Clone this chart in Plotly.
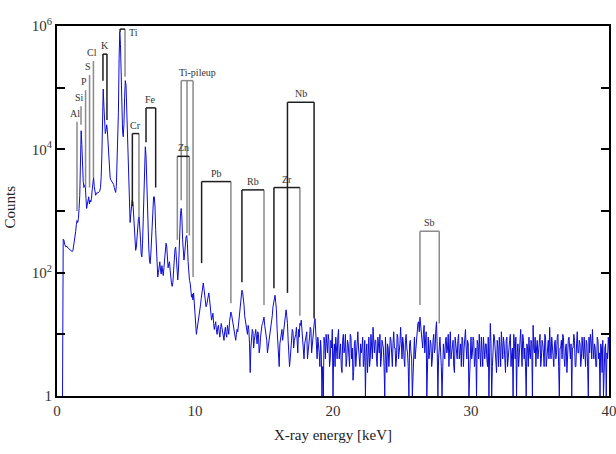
import numpy as np
import plotly.graph_objects as go

# ---------------- spectrum data ----------------
# low-energy part: channels every 0.05 keV starting at 0.40 keV
low_start, low_step = 0.40, 0.05
low_counts = [
    1, 350, 340, 290, 270, 260, 270, 255, 250, 245,          # 0.40-0.85
    240, 235, 230, 225, 220, 225, 260, 320, 400, 460,        # 0.90-1.35
    600, 700, 650, 750, 1100, 1800, 6000, 20000, 12000, 4000, # 1.40-1.85
    3000, 2400, 2600, 2700, 1600, 1100, 1300, 1600, 1700, 1300, # 1.90-2.35
    1500, 1400, 1600, 2200, 3000, 3500, 2500, 1900, 1800, 1900, # 2.40-2.85
    2000, 1950, 2000, 2050, 2100, 2400, 3500, 8000, 60000, 95000, # 2.90-3.35
    50000, 22000, 18000, 20000, 25000, 20000, 12000, 8000, 5000, 3500, # 3.40-3.85
    3200, 3100, 3000, 2900, 2700, 2400, 2100, 2000, 2500, 5000, # 3.90-4.35
    15000, 40000, 300000, 800000, 500000, 120000, 40000, 20000, 16000, 25000, # 4.40-4.85
    70000, 130000, 110000, 45000, 15000, 5000, 2000, 900, 650, 900, # 4.90-5.35
    1300, 1500, 1400, 800, 400, 280, 230, 260, 400, 600,     # 5.40-5.85
    750, 800, 600, 350, 200, 180, 300, 900, 3000, 8000,      # 5.90-6.35
    11000, 8000, 3000, 900, 400, 250, 160, 140, 200, 400,    # 6.40-6.85
    900, 1400, 1700, 1700, 1200, 500, 250, 130, 85, 100,     # 6.90-7.35
    130, 150, 110, 95, 130, 110, 90, 120, 160, 230,          # 7.40-7.85
    300, 270, 160, 120, 140, 150, 110, 80, 65, 60,           # 7.90-8.35
    70, 110, 180, 240, 260, 180, 100, 76, 110, 250,          # 8.40-8.85
    600, 900, 1100, 800, 350, 180, 160, 200, 300, 380,       # 8.90-9.35
    400, 300, 150, 98, 75, 68, 50, 40, 45, 36,               # 9.40-9.85
    47, 30, 18,                                              # 9.90-10.00
]
# high-energy part: channels at 10.1, 10.2, ... keV
high_start, high_step = 10.1, 0.1
high_counts = [
    10, 14, 22, 30, 50, 68, 45, 28, 35, 47,
    30, 17, 22, 12, 16, 10, 14, 9, 15, 11,
    8, 13, 9, 12, 16, 23, 18, 12, 9, 10,
    11, 18, 30, 52, 40, 20, 13, 10, 12, 2.4,
    9, 11, 8, 12, 7, 10, 6, 12, 15, 19,
    12, 8, 6, 10, 14, 20, 35, 43, 25, 6,
    3, 9, 12, 10, 18, 25, 15, 5, 4, 9,
    11, 8, 10, 6, 12, 15, 17, 9, 4, 8,
    11, 6, 9, 12, 7, 14, 18, 6, 9, 5,
    8, 1, 1, 7, 10, 5, 8, 4, 6, 1,
    7, 9, 4, 12, 6, 3, 8, 5, 10, 4,
    7, 3, 9, 6, 2.5, 8, 5, 11, 4, 7,
    6, 3, 8, 5, 2.4, 9, 4, 7, 13, 5,
    8, 3, 6, 10, 4, 7, 3, 9, 2.4, 6,
    5, 8, 3, 11, 6, 4, 9, 5, 13, 4,
    7, 3, 10, 5, 1, 8, 4, 1.8, 9, 6,
    12, 16, 19, 10, 6, 14, 8, 1, 9, 5,
    7, 4, 10, 6, 16, 1, 8, 5, 1, 7,
    4, 9, 6, 3, 11, 5, 8, 2.4, 7, 4,
    10, 5, 3, 8, 6, 12, 4, 7, 3, 9,
    5, 8, 4, 1, 7, 10, 3, 6, 9, 4,
    7, 3, 1, 15, 1, 6, 9, 4, 8, 3,
    6, 11, 4, 7, 2.4, 9, 5, 8, 3, 6,
    10, 4, 1, 7, 5, 12, 3, 8, 6, 1,
    6, 9, 4, 7, 14, 5, 3, 8, 6, 10,
    4, 7, 3, 9, 5, 8, 13, 4, 6, 3,
    8, 5, 10, 1, 6, 4, 9, 3, 7, 5,
    9, 4, 1, 6, 8, 3, 11, 5, 7, 4,
    6, 9, 3, 7, 1, 5, 8, 12, 4, 6,
    3, 8, 5, 7, 2.4, 1, 6, 1, 4, 5,
]
# in-between channels at 10.15, 10.25, ... keV
high_counts_mid = [
    12, 18, 26, 38, 60, 55, 35, 30, 42, 38,
    22, 19, 15, 14, 12, 13, 11, 12, 13, 9,
    11, 10, 14, 10, 20, 21, 14, 10, 8, 12,
    14, 24, 42, 48, 30, 16, 11, 14, 7, 6,
    12, 6, 10, 9, 11, 5, 9, 14, 17, 14,
    9, 5, 8, 12, 16, 28, 40, 33, 12, 4,
    7, 11, 8, 14, 22, 20, 8, 3, 7, 12,
    6, 9, 13, 5, 9, 14, 12, 5, 7, 10,
    4, 8, 13, 5, 10, 16, 9, 4, 7, 3,
    5, 3, 9, 4, 7, 10, 3, 8, 12, 5,
    3, 6, 9, 4, 7, 2.4, 10, 6, 3, 8,
    5, 10, 4, 1.8, 7, 3, 9, 6, 3, 5,
    9, 4, 1, 7, 6, 3, 10, 4, 6, 8,
    4, 9, 5, 3, 8, 6, 1, 5, 7, 3,
    9, 4, 7, 6, 3, 10, 4, 7, 6, 9,
    4, 8, 6, 3, 7, 5, 1, 6, 4, 10,
    15, 11, 13, 7, 10, 5, 11, 6, 4, 8,
    3, 8, 5, 12, 6, 4, 9, 3, 6, 5,
    8, 5, 10, 6, 4, 7, 3, 9, 5, 8,
    4, 7, 9, 3, 10, 6, 8, 1, 6, 4,
    9, 3, 6, 8, 4, 5, 9, 3, 6, 7,
    4, 9, 5, 7, 3, 10, 5, 2.4, 6, 9,
    3, 7, 9, 4, 8, 3, 6, 10, 5, 1,
    7, 9, 5, 3, 8, 6, 10, 4, 3, 7,
    3, 5, 8, 1, 6, 9, 6, 4, 9, 3,
    8, 5, 10, 3, 7, 4, 6, 9, 3, 7,
    4, 9, 3, 6, 8, 10, 4, 6, 2.4, 8,
    5, 7, 6, 10, 3, 7, 5, 8, 3, 9,
    4, 6, 8, 3, 9, 10, 4, 6, 7, 3,
    9, 4, 1, 6, 8, 3, 7, 5, 9, 4,
]

# ---------------- peak markers ----------------
elements = ["Al", "Si", "P", "S", "Cl", "K", "Ti", "Cr", "Fe", "Zn",
            "Ti-pileup", "Pb", "Rb", "Zr", "Nb", "Sb"]
line_lo = [1.45, 1.74, 2.07, 2.36, 2.64, 3.33, 4.57, 5.46, 6.45, 8.72,
           9.00, 10.48, 13.40, 15.72, 16.70, 26.3]
line_hi = [None, None, None, None, None, 3.62, 4.93, 5.94, 7.15, 9.59,
           9.86, 12.60, 15.00, 17.60, 18.63, 27.7]
line_mid = {"Ti-pileup": (9.42, 440)}
top = [2.8e4, 5.0e4, 9.1e4, 1.6e5, 2.7e5, 3.5e5, 8.9e5, 1.8e4, 4.7e4, 7.7e3,
       1.3e5, 3.0e3, 2.2e3, 2.4e3, 5.8e4, 470]
bottom_lo = [1.0e3, 2.5e4, 2.4e3, 2.4e3, 3.5e3, 1.3e5, 8.0e5, 1.2e3, 1.3e4, 340,
             1.5e3, 143, 70, 56, 47, 30]
bottom_hi = [None, None, None, None, None, 3.0e4, 1.5e5, 800, 2.4e3, 400,
             85, 32, 30, 20, 18, 15]
# colour class of (left line, top, right line): d = dark, g = gray
shade = ["g--", "g--", "g--", "g--", "g--", "ddd", "ddg", "ddg", "ddd", "gdg",
         "ggg", "ddg", "ddg", "ddg", "ddd", "ggg"]

DARK, GRAY = "#1e1e1e", "#8a8a8a"
SERIF = "Liberation Serif, Times New Roman, serif"

fig = go.Figure()

low_e = low_start + low_step * np.arange(len(low_counts))
high_e = high_start + high_step * np.arange(len(high_counts))
mid_e = high_e + high_step / 2
hi_e = np.empty(2 * len(high_e))
hi_c = np.empty(2 * len(high_e))
hi_e[0::2], hi_e[1::2] = high_e, mid_e
hi_c[0::2], hi_c[1::2] = high_counts, high_counts_mid
energy = np.concatenate([low_e, hi_e])
counts = np.concatenate([np.array(low_counts, float), hi_c])

fig.add_trace(go.Scatter(x=energy, y=counts, mode="lines",
                         line=dict(color="#0c0cd4", width=1),
                         hoverinfo="skip", showlegend=False))

segs = {"d": ([], []), "g": ([], [])}


def add_seg(c, x0, y0, x1, y1):
    xs, ys = segs[c]
    xs += [x0, x1, None]
    ys += [y0, y1, None]


for i, el in enumerate(elements):
    s = shade[i]
    add_seg(s[0], line_lo[i], bottom_lo[i], line_lo[i], top[i])
    if line_hi[i] is not None:
        add_seg(s[1], line_lo[i], top[i], line_hi[i], top[i])
        add_seg(s[2], line_hi[i], top[i], line_hi[i], bottom_hi[i])
    if el in line_mid:
        xm, ym = line_mid[el]
        add_seg(s[2], xm, top[i], xm, ym)

for c, col in (("g", GRAY), ("d", DARK)):
    xs, ys = segs[c]
    fig.add_trace(go.Scatter(x=xs, y=ys, mode="lines",
                             line=dict(color=col, width=1.5),
                             hoverinfo="skip", showlegend=False))

for i, el in enumerate(elements):
    font = dict(family=SERIF, size=10, color="#333")
    if el == "Ti":
        fig.add_annotation(x=line_hi[i], y=np.log10(top[i]), text=el,
                           showarrow=False, xanchor="left", yanchor="middle",
                           xshift=2, yshift=-3, font=font)
    elif el == "Ti-pileup":
        fig.add_annotation(x=line_lo[i], y=np.log10(top[i]), text=el,
                           showarrow=False, xanchor="left", yanchor="bottom",
                           xshift=-4, yshift=1, font=font)
    else:
        xc = line_lo[i] - 0.12 if line_hi[i] is None else 0.5 * (line_lo[i] + line_hi[i])
        fig.add_annotation(x=xc, y=np.log10(top[i]), text=el,
                           showarrow=False, xanchor="center", yanchor="bottom",
                           yshift=1, font=font)

# y-axis title placed near the left edge of the figure
fig.add_annotation(text="Counts", xref="paper", yref="paper", x=-0.085, y=0.51,
                   textangle=-90, showarrow=False, xanchor="center", yanchor="middle",
                   font=dict(family=SERIF, size=15, color="#222"))

ytick_vals = [1, 100, 1e4, 1e6]
ytick_text = ["1", "10<sup>2</sup>", "10<sup>4</sup>", "10<sup>6</sup>"]
yminor_vals = [10, 1e3, 1e5]
xtick_vals = [0, 10, 20, 30, 40]

fig.update_layout(
    width=616, height=454,
    margin=dict(l=57, r=7, t=26, b=58),
    paper_bgcolor="white", plot_bgcolor="white",
    font=dict(family=SERIF, color="#333"),
    showlegend=False,
)
fig.update_xaxes(
    range=[0, 40], tickvals=xtick_vals, ticks="", showgrid=False, zeroline=False,
    showline=True, linecolor="black", linewidth=2, mirror=True, automargin=False,
    ticklabeloverflow="allow",
    tickfont=dict(family=SERIF, size=15, color="#333"),
    title=dict(text="X-ray energy [keV]", standoff=11,
               font=dict(family=SERIF, size=15, color="#222")),
)
fig.update_yaxes(
    type="log", range=[0, 6], tickvals=ytick_vals, ticktext=ytick_text,
    ticks="inside", ticklen=8, tickwidth=2, tickcolor="black",
    minor=dict(tickvals=yminor_vals, ticks="inside", ticklen=8, tickwidth=2,
               tickcolor="black", showgrid=False),
    showgrid=False, zeroline=False, automargin=False,
    showline=True, linecolor="black", linewidth=2, mirror="ticks",
    tickfont=dict(family=SERIF, size=15, color="#333"),
)

fig.write_html("out.html")
